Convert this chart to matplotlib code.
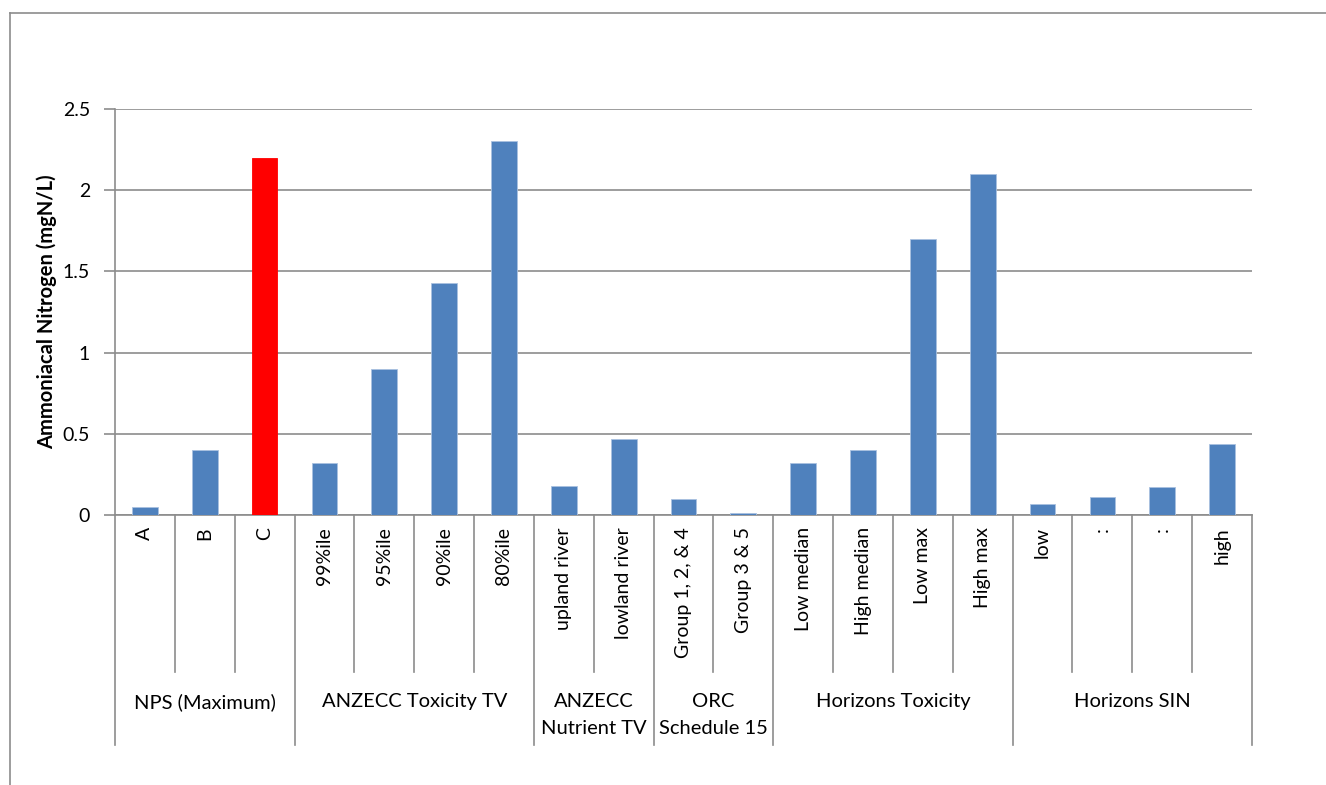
import matplotlib
matplotlib.use("Agg")
import matplotlib.pyplot as plt
from matplotlib.lines import Line2D
import matplotlib.transforms as mtransforms

plt.rcParams['font.family'] = ['Lato', 'DejaVu Sans']

categories = ["A", "B", "C",
              "99%ile", "95%ile", "90%ile", "80%ile",
              "upland river", "lowland river",
              "Group 1, 2, & 4", "Group 3 & 5",
              "Low median", "High median", "Low max", "High max",
              "low", ":", ":", "high"]
values = [0.05, 0.40, 2.20,
          0.32, 0.90, 1.43, 2.30,
          0.18, 0.465,
          0.10, 0.01,
          0.32, 0.40, 1.70, 2.10,
          0.07, 0.11, 0.17, 0.44]
groups = ["NPS (Maximum)", "ANZECC Toxicity TV", "ANZECC\nNutrient TV",
          "ORC\nSchedule 15", "Horizons Toxicity", "Horizons SIN"]
group_sizes = [3, 4, 2, 2, 4, 4]
highlight = "C"

W, H = 1326, 785
fig = plt.figure(figsize=(W / 100, H / 100), dpi=100)
x0, x1, ytop, ybot = 115, 1252, 109, 515
ax = fig.add_axes([x0 / W, 1 - ybot / H, (x1 - x0) / W, (ybot - ytop) / H])

colors = ["#FF0000" if c == highlight else "#4F81BD" for c in categories]
xs = list(range(len(categories)))
ax.bar(xs, values, width=0.43, color=colors, edgecolor="#A9C1E0", linewidth=0.6, zorder=3)
for b, c in zip(ax.patches, categories):
    if c == highlight:
        b.set_edgecolor("#FF0000")

ax.set_xlim(-0.5, len(categories) - 0.5)
ax.set_ylim(0, 2.5)
ax.set_yticks([0, 0.5, 1, 1.5, 2, 2.5])
ax.set_yticklabels(["0", "0.5", "1", "1.5", "2", "2.5"])
ax.yaxis.grid(True, color="#8C8C8C", linewidth=1.2, zorder=0)
ax.set_axisbelow(True)
ax.tick_params(axis="y", length=8, width=1.2, color="#8C8C8C", labelsize=14, pad=10)
ax.tick_params(axis="x", length=0)
ax.set_xticks([])
for s in ["top", "right"]:
    ax.spines[s].set_visible(False)
ax.spines["left"].set_color("#8C8C8C")
ax.spines["left"].set_linewidth(1.2)
ax.spines["bottom"].set_color("#8C8C8C")
ax.spines["bottom"].set_linewidth(1.2)
ax.set_ylabel("Ammoniacal Nitrogen (mgN/L)", fontsize=14.5, fontweight="bold", labelpad=4)

trans = mtransforms.blended_transform_factory(ax.transData, ax.transAxes)
hpx = ybot - ytop
def ay(py):
    return (ybot - py) / hpx

# group boundaries
bounds = [-0.5]
for n in group_sizes:
    bounds.append(bounds[-1] + n)
gb = set(bounds)
for i in range(len(categories) + 1):
    xb = i - 0.5
    yend = ay(745) if xb in gb else ay(672)
    ax.add_line(Line2D([xb, xb], [0, yend], transform=trans, color="#8C8C8C",
                       linewidth=1.2, clip_on=False))

for x, c in zip(xs, categories):
    ax.text(x, ay(527), c, transform=trans, rotation=90, ha="center", va="top",
            fontsize=14, color="black")

for i, g in enumerate(groups):
    cx = (bounds[i] + bounds[i + 1]) / 2
    ax.text(cx, ay(693), g, transform=trans, ha="center", va="top",
            fontsize=14.5, linespacing=1.75, color="black")

# outer chart frame
fig.add_artist(Line2D([10 / W, 10 / W], [0, 1 - 13 / H], transform=fig.transFigure,
                      color="#8C8C8C", linewidth=1.2))
fig.add_artist(Line2D([10 / W, 1], [1 - 13 / H, 1 - 13 / H], transform=fig.transFigure,
                      color="#8C8C8C", linewidth=1.2))

fig.savefig("out.png", dpi=100)
